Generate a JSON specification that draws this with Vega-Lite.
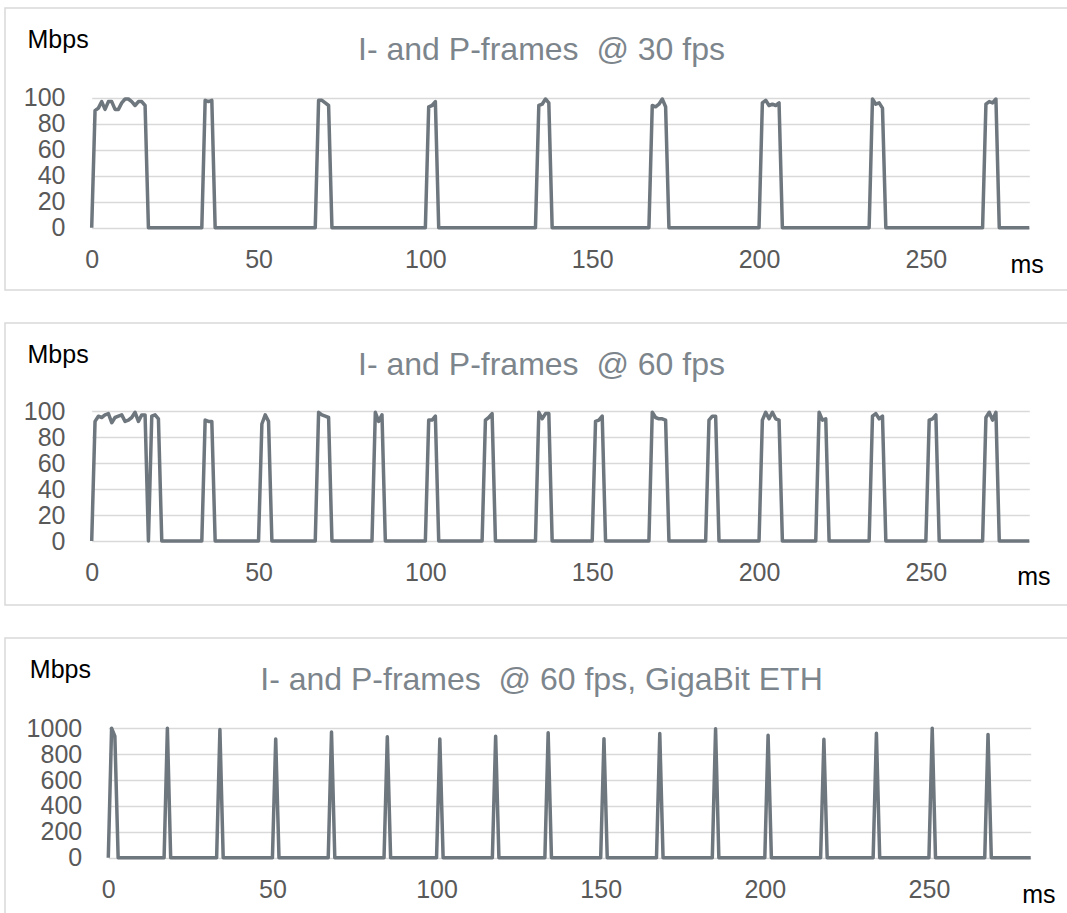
{
  "$schema": "https://vega.github.io/schema/vega-lite/v6.json",
  "background": "white",
  "padding": {"left": 4, "top": 7, "right": 0, "bottom": 0},
  "spacing": 33,
  "bounds": "flush",
  "config": {
    "view": {"stroke": "#d9d9d9", "strokeWidth": 1.5},
    "axis": {"labelFont": "Liberation Sans", "labelFontSize": 25, "labelColor": "#595959", "titleFont": "Liberation Sans", "titleFontSize": 25, "titleColor": "#000000", "titleFontWeight": "normal", "domain": false, "ticks": false, "tickSize": 0, "labelOverlap": false, "labelFlush": false, "gridColor": "#d9d9d9", "gridWidth": 1.5},
    "axisY": {"labelAlign": "right"},
    "title": {"font": "Liberation Sans", "fontSize": 32, "fontWeight": "normal", "color": "#7d858c"},
    "line": {"color": "#6e767e", "strokeWidth": 3.5, "strokeJoin": "round"}
  },
  "datasets": {
    "fps30": [
      {"ms": 0, "Mbps": 0}, {"ms": 1, "Mbps": 90}, {"ms": 2, "Mbps": 92}, {"ms": 3, "Mbps": 97}, {"ms": 4, "Mbps": 91}, {"ms": 5, "Mbps": 97}, {"ms": 6, "Mbps": 97}, {"ms": 7, "Mbps": 91}, {"ms": 8, "Mbps": 91}, {"ms": 9, "Mbps": 96}, {"ms": 10, "Mbps": 99}, {"ms": 11, "Mbps": 99}, {"ms": 12, "Mbps": 97}, {"ms": 13, "Mbps": 94}, {"ms": 14, "Mbps": 97}, {"ms": 15, "Mbps": 97}, {"ms": 16, "Mbps": 94}, {"ms": 17, "Mbps": 0},
      {"ms": 33, "Mbps": 0}, {"ms": 34, "Mbps": 98}, {"ms": 35, "Mbps": 97}, {"ms": 36, "Mbps": 98}, {"ms": 37, "Mbps": 0},
      {"ms": 67, "Mbps": 0}, {"ms": 68, "Mbps": 98}, {"ms": 69, "Mbps": 98}, {"ms": 70, "Mbps": 96}, {"ms": 71, "Mbps": 94}, {"ms": 72, "Mbps": 0},
      {"ms": 100, "Mbps": 0}, {"ms": 101, "Mbps": 93}, {"ms": 102, "Mbps": 94}, {"ms": 103, "Mbps": 97}, {"ms": 104, "Mbps": 0},
      {"ms": 133, "Mbps": 0}, {"ms": 134, "Mbps": 94}, {"ms": 135, "Mbps": 95}, {"ms": 136, "Mbps": 99}, {"ms": 137, "Mbps": 96}, {"ms": 138, "Mbps": 0},
      {"ms": 167, "Mbps": 0}, {"ms": 168, "Mbps": 94}, {"ms": 169, "Mbps": 93}, {"ms": 170, "Mbps": 95}, {"ms": 171, "Mbps": 99}, {"ms": 172, "Mbps": 93}, {"ms": 173, "Mbps": 0},
      {"ms": 200, "Mbps": 0}, {"ms": 201, "Mbps": 96}, {"ms": 202, "Mbps": 98}, {"ms": 203, "Mbps": 94}, {"ms": 204, "Mbps": 95}, {"ms": 205, "Mbps": 94}, {"ms": 206, "Mbps": 96}, {"ms": 207, "Mbps": 0},
      {"ms": 233, "Mbps": 0}, {"ms": 234, "Mbps": 99}, {"ms": 235, "Mbps": 95}, {"ms": 236, "Mbps": 96}, {"ms": 237, "Mbps": 92}, {"ms": 238, "Mbps": 0},
      {"ms": 267, "Mbps": 0}, {"ms": 268, "Mbps": 95}, {"ms": 269, "Mbps": 97}, {"ms": 270, "Mbps": 96}, {"ms": 271, "Mbps": 99}, {"ms": 272, "Mbps": 0},
      {"ms": 281, "Mbps": 0}
    ],
    "fps60": [
      {"ms": 0, "Mbps": 0}, {"ms": 1, "Mbps": 92}, {"ms": 2, "Mbps": 96}, {"ms": 3, "Mbps": 95}, {"ms": 4, "Mbps": 97}, {"ms": 5, "Mbps": 98}, {"ms": 6, "Mbps": 91}, {"ms": 7, "Mbps": 95}, {"ms": 8, "Mbps": 96}, {"ms": 9, "Mbps": 97}, {"ms": 10, "Mbps": 92}, {"ms": 11, "Mbps": 93}, {"ms": 12, "Mbps": 95}, {"ms": 13, "Mbps": 99}, {"ms": 14, "Mbps": 92}, {"ms": 15, "Mbps": 97}, {"ms": 16, "Mbps": 97}, {"ms": 17, "Mbps": 0},
      {"ms": 18, "Mbps": 96}, {"ms": 19, "Mbps": 97}, {"ms": 20, "Mbps": 94}, {"ms": 21, "Mbps": 0},
      {"ms": 33, "Mbps": 0}, {"ms": 34, "Mbps": 93}, {"ms": 35, "Mbps": 92}, {"ms": 36, "Mbps": 92}, {"ms": 37, "Mbps": 0},
      {"ms": 50, "Mbps": 0}, {"ms": 51, "Mbps": 90}, {"ms": 52, "Mbps": 97}, {"ms": 53, "Mbps": 92}, {"ms": 54, "Mbps": 0},
      {"ms": 67, "Mbps": 0}, {"ms": 68, "Mbps": 99}, {"ms": 69, "Mbps": 97}, {"ms": 70, "Mbps": 96}, {"ms": 71, "Mbps": 95}, {"ms": 72, "Mbps": 0},
      {"ms": 84, "Mbps": 0}, {"ms": 85, "Mbps": 99}, {"ms": 86, "Mbps": 92}, {"ms": 87, "Mbps": 97}, {"ms": 88, "Mbps": 0},
      {"ms": 100, "Mbps": 0}, {"ms": 101, "Mbps": 93}, {"ms": 102, "Mbps": 93}, {"ms": 103, "Mbps": 96}, {"ms": 104, "Mbps": 0},
      {"ms": 117, "Mbps": 0}, {"ms": 118, "Mbps": 93}, {"ms": 119, "Mbps": 95}, {"ms": 120, "Mbps": 98}, {"ms": 121, "Mbps": 0},
      {"ms": 133, "Mbps": 0}, {"ms": 134, "Mbps": 99}, {"ms": 135, "Mbps": 94}, {"ms": 136, "Mbps": 98}, {"ms": 137, "Mbps": 98}, {"ms": 138, "Mbps": 0},
      {"ms": 150, "Mbps": 0}, {"ms": 151, "Mbps": 92}, {"ms": 152, "Mbps": 93}, {"ms": 153, "Mbps": 96}, {"ms": 154, "Mbps": 0},
      {"ms": 167, "Mbps": 0}, {"ms": 168, "Mbps": 99}, {"ms": 169, "Mbps": 95}, {"ms": 170, "Mbps": 94}, {"ms": 171, "Mbps": 94}, {"ms": 172, "Mbps": 93}, {"ms": 173, "Mbps": 0},
      {"ms": 184, "Mbps": 0}, {"ms": 185, "Mbps": 93}, {"ms": 186, "Mbps": 96}, {"ms": 187, "Mbps": 96}, {"ms": 188, "Mbps": 0},
      {"ms": 200, "Mbps": 0}, {"ms": 201, "Mbps": 93}, {"ms": 202, "Mbps": 99}, {"ms": 203, "Mbps": 94}, {"ms": 204, "Mbps": 99}, {"ms": 205, "Mbps": 94}, {"ms": 206, "Mbps": 93}, {"ms": 207, "Mbps": 0},
      {"ms": 217, "Mbps": 0}, {"ms": 218, "Mbps": 99}, {"ms": 219, "Mbps": 93}, {"ms": 220, "Mbps": 94}, {"ms": 221, "Mbps": 0},
      {"ms": 233, "Mbps": 0}, {"ms": 234, "Mbps": 96}, {"ms": 235, "Mbps": 98}, {"ms": 236, "Mbps": 94}, {"ms": 237, "Mbps": 96}, {"ms": 238, "Mbps": 0},
      {"ms": 250, "Mbps": 0}, {"ms": 251, "Mbps": 93}, {"ms": 252, "Mbps": 94}, {"ms": 253, "Mbps": 97}, {"ms": 254, "Mbps": 0},
      {"ms": 267, "Mbps": 0}, {"ms": 268, "Mbps": 95}, {"ms": 269, "Mbps": 99}, {"ms": 270, "Mbps": 93}, {"ms": 271, "Mbps": 99}, {"ms": 272, "Mbps": 0},
      {"ms": 281, "Mbps": 0}
    ],
    "gige": [
      {"ms": 0, "Mbps": 0}, {"ms": 1, "Mbps": 1000}, {"ms": 2, "Mbps": 940}, {"ms": 3, "Mbps": 0},
      {"ms": 17, "Mbps": 0}, {"ms": 18, "Mbps": 1000}, {"ms": 19, "Mbps": 0},
      {"ms": 33, "Mbps": 0}, {"ms": 34, "Mbps": 990}, {"ms": 35, "Mbps": 0},
      {"ms": 50, "Mbps": 0}, {"ms": 51, "Mbps": 917}, {"ms": 52, "Mbps": 0},
      {"ms": 67, "Mbps": 0}, {"ms": 68, "Mbps": 972}, {"ms": 69, "Mbps": 0},
      {"ms": 84, "Mbps": 0}, {"ms": 85, "Mbps": 935}, {"ms": 86, "Mbps": 0},
      {"ms": 100, "Mbps": 0}, {"ms": 101, "Mbps": 917}, {"ms": 102, "Mbps": 0},
      {"ms": 117, "Mbps": 0}, {"ms": 118, "Mbps": 938}, {"ms": 119, "Mbps": 0},
      {"ms": 133, "Mbps": 0}, {"ms": 134, "Mbps": 966}, {"ms": 135, "Mbps": 0},
      {"ms": 150, "Mbps": 0}, {"ms": 151, "Mbps": 920}, {"ms": 152, "Mbps": 0},
      {"ms": 167, "Mbps": 0}, {"ms": 168, "Mbps": 959}, {"ms": 169, "Mbps": 0},
      {"ms": 184, "Mbps": 0}, {"ms": 185, "Mbps": 997}, {"ms": 186, "Mbps": 0},
      {"ms": 200, "Mbps": 0}, {"ms": 201, "Mbps": 946}, {"ms": 202, "Mbps": 0},
      {"ms": 217, "Mbps": 0}, {"ms": 218, "Mbps": 915}, {"ms": 219, "Mbps": 0},
      {"ms": 233, "Mbps": 0}, {"ms": 234, "Mbps": 961}, {"ms": 235, "Mbps": 0},
      {"ms": 250, "Mbps": 0}, {"ms": 251, "Mbps": 1000}, {"ms": 252, "Mbps": 0},
      {"ms": 267, "Mbps": 0}, {"ms": 268, "Mbps": 953}, {"ms": 269, "Mbps": 0},
      {"ms": 281, "Mbps": 0}
    ]
  },
  "vconcat": [
    {
      "width": 1065, "height": 282,
      "title": {"text": "I- and P-frames\u00a0 @ 30 fps", "anchor": "middle", "frame": "group", "offset": -84, "baseline": "alphabetic", "dx": 4},
      "data": {"name": "fps30"},
      "mark": {"type": "line"},
      "encoding": {
        "x": {"field": "ms", "type": "quantitative",
              "scale": {"domain": [0, 281], "range": [86.7, 1024.3], "nice": false, "zero": false},
              "axis": {"values": [0, 50, 100, 150, 200, 250], "grid": false, "offset": -62.3, "labelPadding": 19.5, "title": "ms", "titleX": 1005, "titleY": 45, "titleAlign": "left", "titleBaseline": "alphabetic"}},
        "y": {"field": "Mbps", "type": "quantitative",
              "scale": {"domain": [0, 100], "range": [219.7, 89.7], "nice": false},
              "axis": {"values": [0, 20, 40, 60, 80, 100], "grid": true, "offset": -60, "labelPadding": 0, "title": "Mbps", "titleAngle": 0, "titleX": -38, "titleY": 39.7, "titleAlign": "left", "titleBaseline": "alphabetic"}}
      }
    },
    {
      "width": 1065, "height": 282,
      "title": {"text": "I- and P-frames\u00a0 @ 60 fps", "anchor": "middle", "frame": "group", "offset": -84, "baseline": "alphabetic", "dx": 4},
      "data": {"name": "fps60"},
      "mark": {"type": "line"},
      "encoding": {
        "x": {"field": "ms", "type": "quantitative",
              "scale": {"domain": [0, 281], "range": [86.7, 1024.3], "nice": false, "zero": false},
              "axis": {"values": [0, 50, 100, 150, 200, 250], "grid": false, "offset": -64, "labelPadding": 19.5, "title": "ms", "titleX": 1011.7, "titleY": 43, "titleAlign": "left", "titleBaseline": "alphabetic"}},
        "y": {"field": "Mbps", "type": "quantitative",
              "scale": {"domain": [0, 100], "range": [218, 88], "nice": false},
              "axis": {"values": [0, 20, 40, 60, 80, 100], "grid": true, "offset": -60, "labelPadding": 0, "title": "Mbps", "titleAngle": 0, "titleX": -38, "titleY": 39.7, "titleAlign": "left", "titleBaseline": "alphabetic"}}
      }
    },
    {
      "width": 1065, "height": 282,
      "title": {"text": "I- and P-frames\u00a0 @ 60 fps, GigaBit ETH", "anchor": "middle", "frame": "group", "offset": -84, "baseline": "alphabetic", "dx": 4},
      "data": {"name": "gige"},
      "mark": {"type": "line"},
      "encoding": {
        "x": {"field": "ms", "type": "quantitative",
              "scale": {"domain": [0, 281], "range": [103.3, 1025.7], "nice": false, "zero": false},
              "axis": {"values": [0, 50, 100, 150, 200, 250], "grid": false, "offset": -62.3, "labelPadding": 19.5, "title": "ms", "titleX": 1016.7, "titleY": 45, "titleAlign": "left", "titleBaseline": "alphabetic"}},
        "y": {"field": "Mbps", "type": "quantitative",
              "scale": {"domain": [0, 1000], "range": [219.7, 90.3], "nice": false},
              "axis": {"values": [0, 200, 400, 600, 800, 1000], "format": "d", "grid": true, "offset": -76.7, "labelPadding": 0, "title": "Mbps", "titleAngle": 0, "titleX": -52.4, "titleY": 39, "titleAlign": "left", "titleBaseline": "alphabetic"}}
      }
    }
  ]
}
